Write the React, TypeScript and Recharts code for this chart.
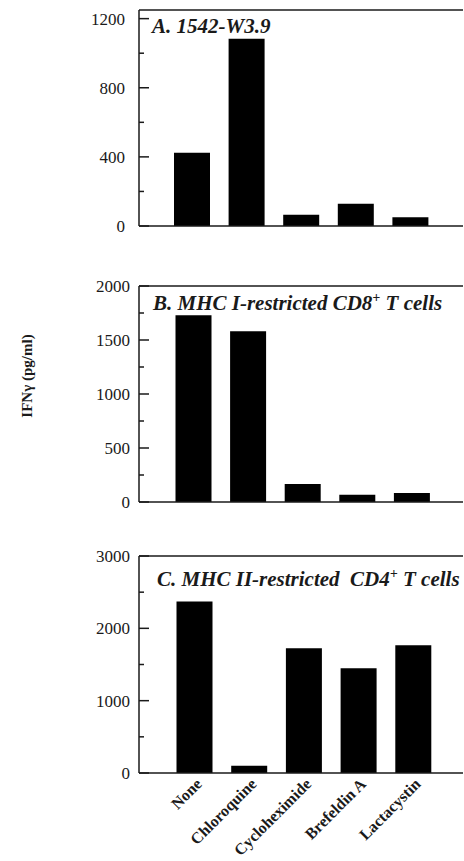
import React from "react";
import { BarChart, Bar, XAxis, YAxis, ReferenceLine } from "recharts";

// IFN-gamma release (pg/ml) after each treatment
const treatments = ["None", "Chloroquine", "Cycloheximide", "Brefeldin A", "Lactacystin"];
const clone1542 = [424, 1084, 65, 129, 51];
const cd8Cells = [1730, 1582, 167, 68, 83];
const cd4Cells = [2370, 101, 1725, 1449, 1767];

const ticksA = [0, 200, 400, 600, 800, 1000, 1200];
const ticksB = [0, 250, 500, 750, 1000, 1250, 1500, 1750, 2000];
const ticksC = [0, 500, 1000, 1500, 2000, 2500, 3000];

const FONT = '"Liberation Serif", "DejaVu Serif", serif';
const INK = "#1a1a1a";

const YTick = ({ x, y, payload, every, gap }: any) => {
  const major = payload.value % every === 0;
  const axisX = x + gap;
  return (
    <g>
      <line x1={axisX} x2={axisX + (major ? 10 : 5)} y1={y} y2={y} stroke={INK} strokeWidth={1.5} />
      {major && (
        <text x={x} y={y} dy="0.35em" textAnchor="end" fontFamily={FONT} fontSize={17} fill={INK}>
          {payload.value}
        </text>
      )}
    </g>
  );
};

const XTick = ({ x, y, payload }: any) => {
  const ax = x + 8;
  const ay = y + 12;
  return (
    <text
      x={ax}
      y={ay}
      transform={`rotate(-45, ${ax}, ${ay})`}
      textAnchor="end"
      fontFamily={FONT}
      fontWeight="bold"
      fontSize={16}
      fill={INK}
    >
      {payload.value}
    </text>
  );
};

function Panel({ values, ticks, max, every, gap, padLeft, padRight, height, showLabels }: any) {
  const data = treatments.map((name, i) => ({ name, value: values[i] }));
  return (
    <BarChart
      width={464}
      height={height}
      data={data}
      margin={{ top: 10, right: 1, bottom: 0, left: 0 }}
      style={{ overflow: "visible" }}
    >
      <XAxis
        dataKey="name"
        padding={{ left: padLeft, right: padRight }}
        axisLine={{ stroke: INK, strokeWidth: 1.5 }}
        tickLine={false}
        tickSize={0}
        tickMargin={0}
        interval={0}
        height={showLabels ? height - 227 : 14}
        tick={showLabels ? (p: any) => <XTick {...p} /> : false}
      />
      <YAxis
        width={139}
        domain={[0, max]}
        ticks={ticks}
        interval={0}
        axisLine={{ stroke: INK, strokeWidth: 1.5 }}
        tickLine={false}
        tickSize={0}
        tickMargin={gap}
        tick={(p: any) => <YTick {...p} every={every} gap={gap} />}
      />
      <ReferenceLine y={max} stroke={INK} strokeWidth={1.5} />
      <Bar dataKey="value" fill="#000" barSize={36} isAnimationActive={false} />
    </BarChart>
  );
}

export default function App() {
  const title = { fontFamily: FONT, fontWeight: "bold", fontStyle: "italic", fontSize: 21, fill: INK } as any;
  return (
    <div style={{ position: "absolute", left: 0, top: 0, width: 464, height: 861, background: "#fff" }}>
      <div style={{ position: "absolute", left: 0, top: 0 }}>
        <Panel values={clone1542} ticks={ticksA} max={1250} every={400} gap={14} padLeft={26} padRight={25} height={240} />
      </div>
      <div style={{ position: "absolute", left: 0, top: 276 }}>
        <Panel values={cd8Cells} ticks={ticksB} max={2000} every={500} gap={9} padLeft={27.5} padRight={23.5} height={240} />
      </div>
      <div style={{ position: "absolute", left: 0, top: 546 }}>
        <Panel values={cd4Cells} ticks={ticksC} max={3000} every={1000} gap={9} padLeft={28.5} padRight={22} height={315} showLabels />
      </div>
      <svg width={464} height={861} style={{ position: "absolute", left: 0, top: 0, pointerEvents: "none" }}>
        <text x={152} y={33} {...title}>A. 1542-W3.9</text>
        <text x={153} y={310} {...title}>
          B. MHC I-restricted CD8<tspan dy={-8} fontSize={14}>+</tspan>
          <tspan dy={8}> T cells</tspan>
        </text>
        <text x={157} y={586} {...title} style={{ whiteSpace: "pre" }}>
          C. MHC II-restricted  CD4<tspan dy={-8} fontSize={14}>+</tspan>
          <tspan dy={8}> T cells</tspan>
        </text>
        <text
          transform="translate(27,376) rotate(-90)"
          textAnchor="middle"
          dominantBaseline="central"
          fontFamily={FONT}
          fontWeight="bold"
          fontSize={15}
          fill={INK}
        >
          IFNγ (pg/ml)
        </text>
      </svg>
    </div>
  );
}
